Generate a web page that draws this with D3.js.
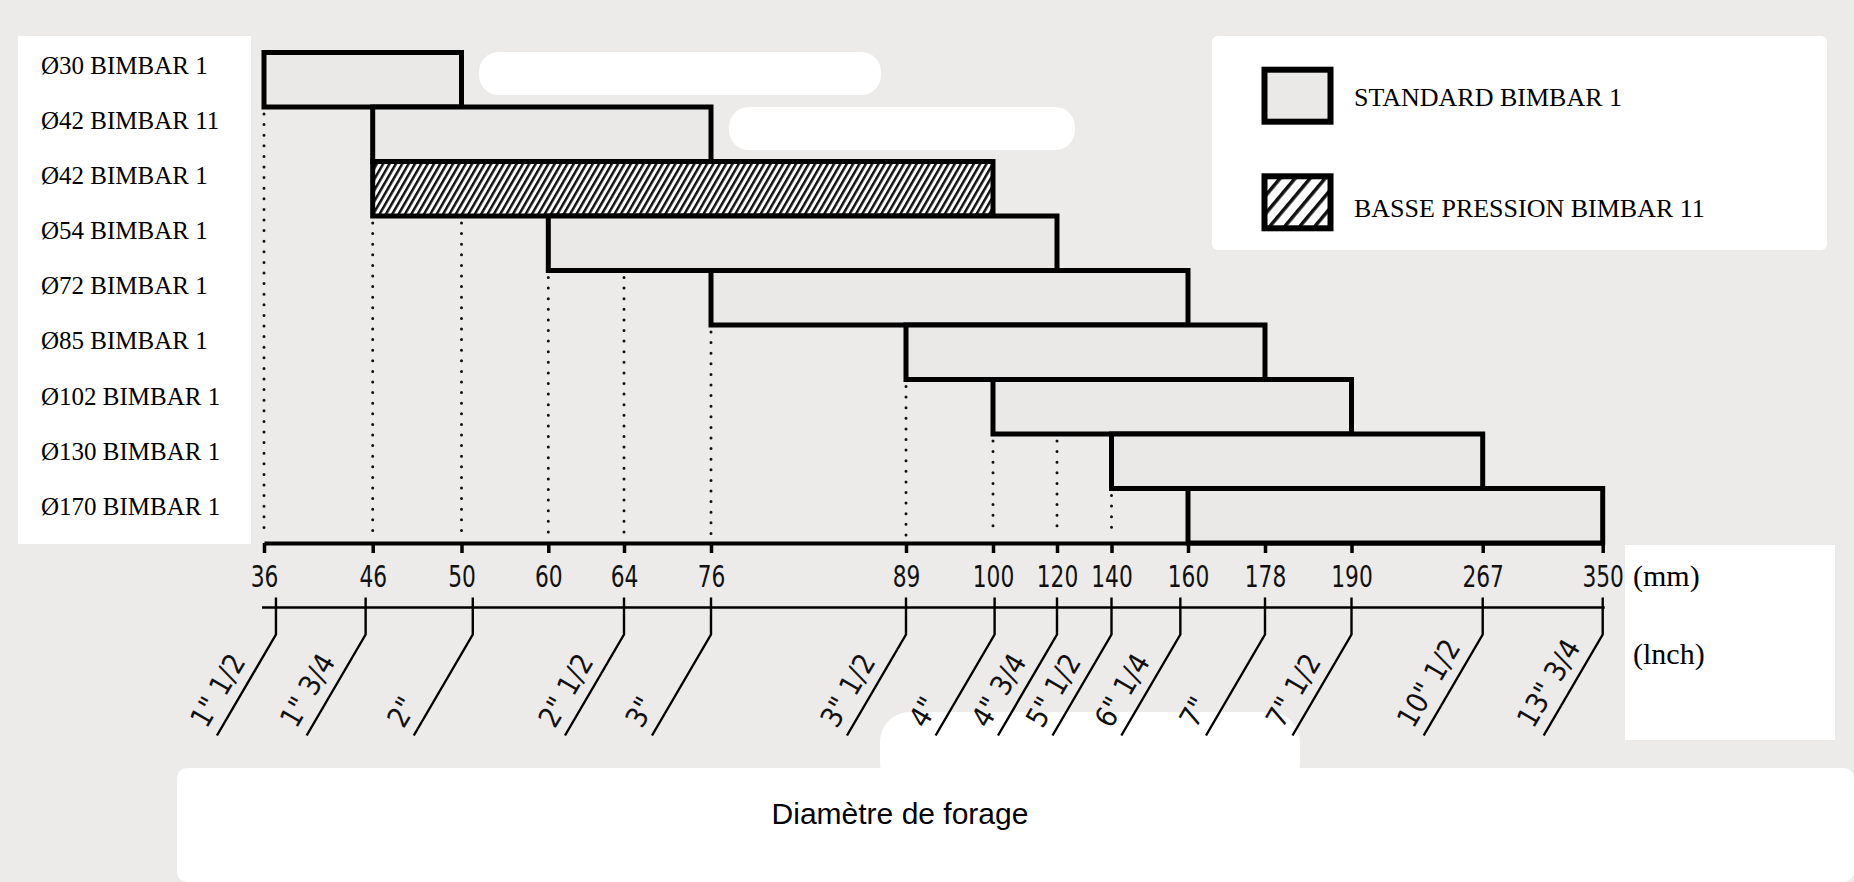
<!DOCTYPE html>
<html>
<head>
<meta charset="utf-8">
<script src="https://cdn.jsdelivr.net/npm/d3@7"></script>
<style>
  body { margin: 0; background: #ecebea; }
  svg { display: block; }
</style>
</head>
<body>
<div id="chart"></div>
<script>
// rows, top to bottom (labels copied as printed)
const rowLabels = ["Ø30 BIMBAR 1", "Ø42 BIMBAR 11", "Ø42 BIMBAR 1", "Ø54 BIMBAR 1", "Ø72 BIMBAR 1",
  "Ø85 BIMBAR 1", "Ø102 BIMBAR 1", "Ø130 BIMBAR 1", "Ø170 BIMBAR 1"];
// drilling diameter range of each row, in mm
const barFrom = [36, 46, 46, 60, 76, 89, 100, 140, 160];
const barTo = [50, 76, 100, 120, 160, 178, 190, 267, 350];
const barKind = ["standard", "standard", "basse", "standard", "standard", "standard", "standard", "standard", "standard"];

const mmTicks = [36, 46, 50, 60, 64, 76, 89, 100, 120, 140, 160, 178, 190, 267, 350];
const inchLabels = ['1" 1/2', '1" 3/4', '2"', '2" 1/2', '3"', '3" 1/2', '4"', '4" 3/4', '5" 1/2', '6" 1/4',
  '7"', '7" 1/2', '10" 1/2', '13" 3/4'];
// where each inch mark sits on the mm scale
const inchAtMm = [37.1, 45.35, 51.3, 64, 76, 89, 100.5, 120, 140, 158, 178, 190, 267, 350];

const legendKinds = ["standard", "basse"];
const legendLabels = ["STANDARD BIMBAR 1", "BASSE PRESSION BIMBAR 11"];

const width = 1854, height = 882;
// the mm axis is hand drawn, ticks are not proportional -> piecewise scale
const mmStopPx = [264, 372.7, 461.5, 548.3, 624, 711, 906, 993, 1057, 1111.5, 1188, 1265, 1351.5, 1482.7, 1602.7];
const plotTop = 52.5, axisY = 543, inchY = 607.5;
const barFill = "#ebe9e8";

const x = d3.scaleLinear().domain(mmTicks).range(mmStopPx);
const y = d3.scaleBand().domain(rowLabels).range([plotTop, axisY]);
// labels are spread a touch wider than the bars in the original
const yLabel = d3.scalePoint().domain(rowLabels).range([73.5, 515]);

const svg = d3.select("#chart").append("svg")
  .attr("width", width)
  .attr("height", height);

// white patches of the scanned sheet
const paper = [
  [18, 36, 233, 508, 0], [1212, 36, 615, 214, 6], [479, 52, 402, 43, 20], [729, 107, 346, 43, 20],
  [177, 768, 1677, 114, 10], [880, 712, 420, 80, 30], [1625, 545, 210, 195, 0]
];
svg.selectAll("rect.paper")
  .data(paper)
  .join("rect")
  .attr("class", "paper")
  .attr("x", d => d[0]).attr("y", d => d[1])
  .attr("width", d => d[2]).attr("height", d => d[3])
  .attr("rx", d => d[4])
  .attr("fill", "#fff");

const defs = svg.append("defs");
const hatch = defs.append("pattern")
  .attr("id", "hatch")
  .attr("patternUnits", "userSpaceOnUse")
  .attr("width", 5.5).attr("height", 10)
  .attr("patternTransform", "rotate(30)");
hatch.append("rect").attr("width", 5.5).attr("height", 10).attr("fill", "#fff");
hatch.append("rect").attr("width", 2.5).attr("height", 10).attr("fill", "#111");

const hatchBig = defs.append("pattern")
  .attr("id", "hatchBig")
  .attr("patternUnits", "userSpaceOnUse")
  .attr("width", 11.5).attr("height", 20)
  .attr("patternTransform", "rotate(40)");
hatchBig.append("rect").attr("width", 11.5).attr("height", 20).attr("fill", "#fff");
hatchBig.append("rect").attr("width", 3.5).attr("height", 20).attr("fill", "#111");

const bars = rowLabels.map((r, i) => ({ row: r, from: barFrom[i], to: barTo[i], kind: barKind[i] }));

// dotted guides: from the lowest bar that spans the tick down to the axis
const guides = [];
mmTicks.forEach(v => {
  let last = -1;
  bars.forEach((b, i) => { if (b.from <= v && v <= b.to) last = i; });
  if (last >= 0 && last < bars.length - 1) {
    guides.push({ v: v, y0: y(bars[last].row) + y.bandwidth() + 7 });
  }
});
svg.selectAll("line.guide")
  .data(guides)
  .join("line")
  .attr("class", "guide")
  .attr("x1", d => x(d.v)).attr("x2", d => x(d.v))
  .attr("y1", d => d.y0).attr("y2", axisY - 8)
  .attr("stroke", "#111")
  .attr("stroke-width", 3)
  .attr("stroke-linecap", "round")
  .attr("stroke-dasharray", "0 10.6");

svg.selectAll("rect.bar")
  .data(bars)
  .join("rect")
  .attr("class", "bar")
  .attr("x", d => x(d.from))
  .attr("y", d => y(d.row))
  .attr("width", d => x(d.to) - x(d.from))
  .attr("height", y.bandwidth())
  .attr("fill", d => d.kind === "basse" ? "url(#hatch)" : barFill)
  .attr("stroke", "#000")
  .attr("stroke-width", 5);

// row labels
svg.selectAll("text.row")
  .data(rowLabels)
  .join("text")
  .attr("class", "row")
  .attr("x", 41)
  .attr("y", d => yLabel(d))
  .attr("font-family", "Liberation Serif")
  .attr("font-size", 25)
  .attr("fill", "#000")
  .text(d => d);

// mm axis
const mmAxis = d3.axisBottom(x)
  .tickValues(mmTicks)
  .tickSize(10)
  .tickSizeOuter(0)
  .tickPadding(12)
  .tickFormat(d3.format("d"));
const gx = svg.append("g")
  .attr("transform", `translate(0,${axisY})`)
  .call(mmAxis);
gx.select(".domain").attr("stroke", "#000").attr("stroke-width", 4);
gx.selectAll(".tick line").attr("stroke", "#000").attr("stroke-width", 3.5);
// narrow drafting lettering
gx.selectAll(".tick text")
  .attr("font-family", "DejaVu Sans Condensed")
  .attr("font-size", 31)
  .attr("transform", "scale(0.78,1)")
  .attr("fill", "#111");

// inch axis
svg.append("line")
  .attr("x1", x(36) - 2).attr("x2", x(350) + 2)
  .attr("y1", inchY).attr("y2", inchY)
  .attr("stroke", "#000")
  .attr("stroke-width", 2.4);

const slantDx = -59, slantDy = 101;
const slantAngle = -Math.atan2(slantDy, -slantDx) * 180 / Math.PI;
const inches = inchLabels.map((l, i) => ({ label: l, mm: inchAtMm[i] }));

const gi = svg.append("g").selectAll("g")
  .data(inches)
  .join("g");
gi.append("path")
  .attr("d", d => `M${x(d.mm)},${inchY - 10}V${inchY + 27}l${slantDx},${slantDy}`)
  .attr("fill", "none")
  .attr("stroke", "#000")
  .attr("stroke-width", 2.4)
  .attr("stroke-linejoin", "round");
gi.append("text")
  .attr("transform", d => `translate(${x(d.mm) + slantDx},${inchY + 27 + slantDy}) rotate(${slantAngle})`)
  .attr("x", 0)
  .attr("y", -12)
  .attr("font-family", "DejaVu Sans Condensed")
  .attr("font-size", 29)
  .attr("fill", "#111")
  .text(d => d.label);

// units
svg.append("text")
  .attr("x", 1633).attr("y", 586)
  .attr("font-family", "Liberation Serif").attr("font-size", 30)
  .text("(mm)");
svg.append("text")
  .attr("x", 1633).attr("y", 664)
  .attr("font-family", "Liberation Serif").attr("font-size", 30)
  .text("(lnch)");

// legend
const legend = svg.append("g").selectAll("g")
  .data(legendKinds)
  .join("g")
  .attr("transform", (d, i) => `translate(1264.5,${69.7 + i * 106.6})`);
legend.append("rect")
  .attr("width", 66)
  .attr("height", 52)
  .attr("fill", d => d === "basse" ? "url(#hatchBig)" : barFill)
  .attr("stroke", "#000")
  .attr("stroke-width", 6);
legend.append("text")
  .attr("x", 89.5)
  .attr("y", (d, i) => 36.5 + i * 4)
  .attr("font-family", "Liberation Serif")
  .attr("font-size", 26)
  .text((d, i) => legendLabels[i]);

// axis title
svg.append("text")
  .attr("x", 900).attr("y", 824)
  .attr("text-anchor", "middle")
  .attr("font-family", "Liberation Sans")
  .attr("font-size", 30)
  .text("Diamètre de forage");
</script>
</body>
</html>
